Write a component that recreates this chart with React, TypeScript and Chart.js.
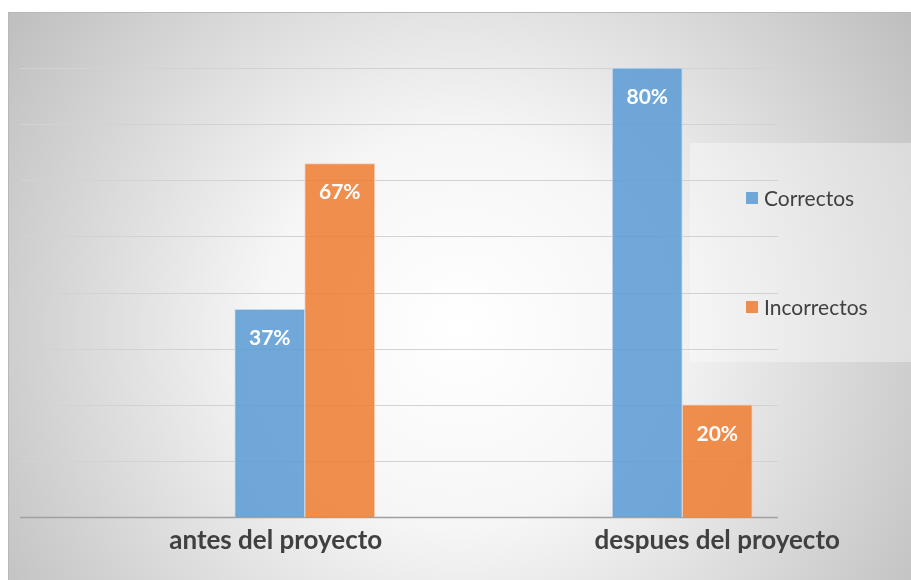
import React, { useEffect, useRef } from "react";
import { Chart, registerables } from "chart.js";

Chart.register(...registerables);

const categories = ["antes del proyecto", "despues del proyecto"];
const seriesNames = ["Correctos", "Incorrectos"];
const correctos = [37, 80];
const incorrectos = [63, 20];
const correctosLabels = ["37%", "80%"];
const incorrectosLabels = ["67%", "20%"];
const yTicks = [0, 10, 20, 30, 40, 50, 60, 70, 80];

const BLUE = "rgba(91,155,213,0.86)";
const ORANGE = "rgba(237,125,49,0.86)";
const FONT = "Lato, 'Open Sans', sans-serif";

const bgPlugin = {
  id: "bgPlugin",
  beforeDraw(chart: any) {
    const ctx = chart.ctx;
    ctx.save();
    ctx.fillStyle = "#ffffff";
    ctx.fillRect(0, 0, chart.width, chart.height);
    const g = ctx.createRadialGradient(460, 330, 0, 460, 330, 560);
    g.addColorStop(0, "#ffffff");
    g.addColorStop(0.35, "#f6f6f6");
    g.addColorStop(1, "#bdbdbd");
    ctx.fillStyle = g;
    ctx.fillRect(8, 12, chart.width - 8, chart.height - 12);
    ctx.strokeStyle = "#b8b8b8";
    ctx.lineWidth = 1;
    ctx.strokeRect(8.5, 12.5, chart.width, chart.height);
    // legend box
    ctx.fillStyle = "rgba(255,255,255,0.35)";
    ctx.fillRect(690, 143, chart.width - 690, 219);
    // gridlines
    const y = chart.scales.y;
    yTicks.forEach((v) => {
      const py = Math.round(y.getPixelForValue(v)) + 0.5;
      ctx.beginPath();
      ctx.strokeStyle = v === 0 ? "#a0a0a0" : "#d2d2d2";
      ctx.lineWidth = v === 0 ? 1.5 : 1;
      ctx.moveTo(20, py);
      ctx.lineTo(778, py);
      ctx.stroke();
    });
    ctx.restore();
  },
};

const labelPlugin = {
  id: "labelPlugin",
  afterDatasetsDraw(chart: any) {
    const ctx = chart.ctx;
    ctx.save();
    ctx.font = `bold 21px ${FONT}`;
    ctx.fillStyle = "#ffffff";
    ctx.textAlign = "center";
    ctx.textBaseline = "middle";
    const lbls = [correctosLabels, incorrectosLabels];
    chart.data.datasets.forEach((_: any, di: number) => {
      const meta = chart.getDatasetMeta(di);
      meta.data.forEach((bar: any, i: number) => {
        ctx.fillText(lbls[di][i], bar.x, bar.y + 29);
      });
    });
    // category labels (Excel places them off the bar-group centres)
    const x = chart.scales.x;
    const shifts = [-29, 35];
    ctx.font = `bold 26px ${FONT}`;
    ctx.fillStyle = "#404040";
    ctx.textBaseline = "alphabetic";
    categories.forEach((c, i) => {
      ctx.fillText(c, x.getPixelForValue(i) + shifts[i], 549);
    });
    // legend
    const items = [
      { name: seriesNames[0], color: BLUE, y: 198 },
      { name: seriesNames[1], color: ORANGE, y: 307 },
    ];
    ctx.font = `21px ${FONT}`;
    ctx.textAlign = "left";
    ctx.textBaseline = "middle";
    items.forEach((it) => {
      ctx.fillStyle = it.color;
      ctx.fillRect(746, it.y - 6, 12, 12);
      ctx.fillStyle = "#404040";
      ctx.fillText(it.name, 764, it.y + 1);
    });
    ctx.restore();
  },
};

export default function App() {
  const ref = useRef<HTMLCanvasElement | null>(null);
  useEffect(() => {
    if (!ref.current) return;
    const chart = new Chart(ref.current, {
      type: "bar",
      data: {
        labels: categories,
        datasets: [
          {
            label: seriesNames[0],
            data: correctos,
            backgroundColor: BLUE,
            borderColor: "rgba(189,215,238,0.9)",
            borderWidth: 1,
            barThickness: 70,
          },
          {
            label: seriesNames[1],
            data: incorrectos,
            backgroundColor: ORANGE,
            borderColor: "rgba(248,203,173,0.9)",
            borderWidth: 1,
            barThickness: 70,
          },
        ],
      },
      options: {
        responsive: false,
        animation: false,
        layout: { padding: { left: 116, right: 40, top: 12, bottom: 0 } },
        plugins: { legend: { display: false }, tooltip: { enabled: false } },
        scales: {
          x: {
            grid: { display: false },
            border: { display: false },
            ticks: { display: false },
            afterFit: (s: any) => {
              s.height = 63;
            },
          },
          y: {
            display: false,
            min: 0,
            max: 90,
          },
        },
      },
      plugins: [bgPlugin, labelPlugin],
    });
    return () => chart.destroy();
  }, []);
  return (
    <div style={{ position: "absolute", left: 0, top: 0, width: 911, height: 580 }}>
      <canvas ref={ref} width={911} height={580} style={{ display: "block" }} />
    </div>
  );
}
